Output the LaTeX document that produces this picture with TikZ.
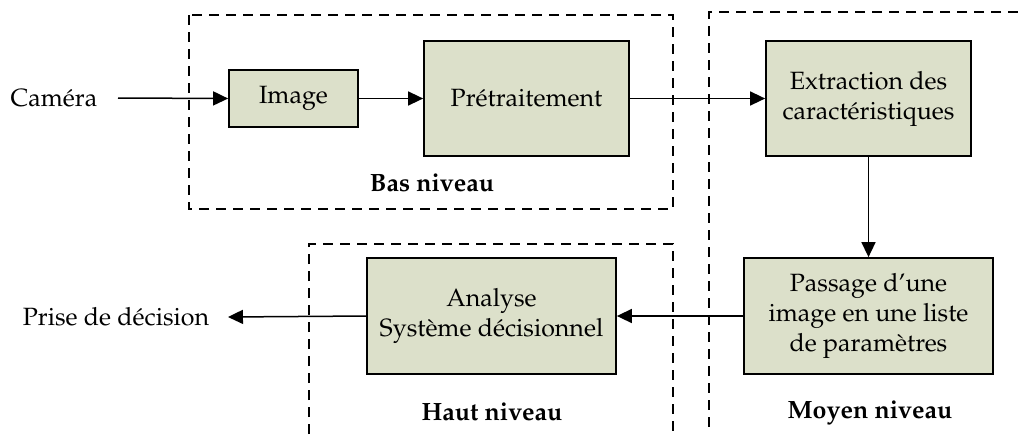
\documentclass[tikz,border=0pt]{standalone}
\usepackage[T1]{fontenc}
\usepackage{mathpazo}
\usepackage{xcolor}
\usepackage{tikz}
\usetikzlibrary{arrows.meta,positioning}
\definecolor{cBox}{RGB}{220,224,202}
\tikzset{
  stage/.style={draw=black, fill=cBox, line width=0.7pt,
                align=center, font=\normalsize, inner sep=2pt},
  level/.style={draw=black, line width=0.7pt, dash pattern=on 4pt off 2.8pt},
  lvl/.style={font=\bfseries},
  txt/.style={font=\normalsize},
  arr/.style={-{Triangle[length=6pt,width=5.6pt]}, line width=0.6pt},
}

\begin{document}
\begin{tikzpicture}[x=0.4pt, y=-0.4pt]
  \useasboundingbox (0,0) rectangle (1018,434);
  % niveaux
  \draw[level] (189,15) rectangle (673,209);
  \draw[level] (1018,12) -- (709,12) -- (709,434);
  \draw[level] (309,434) -- (309,244) -- (673,244) -- (673,434);
  \node[lvl] (bas) at (432,183) {Bas niveau};
  \node[lvl] (haut) at (492,412) {Haut niveau};
  \node[lvl] (moyen) at (870,413) {Moyen niveau};
  % blocs
  \node[txt] (cam) at (54,98) {Caméra};
  \coordinate (camr) at (118,98);
  \node[stage, minimum width=51.6pt, minimum height=22.8pt] (img) at (293.5,98.5) {Image};
  \node[stage, minimum width=82pt, minimum height=46pt] (pre) at (526.5,98.5) {Prétraitement};
  \node[stage, minimum width=82pt, minimum height=46pt] (ext) at (868.5,98.5) {Extraction des\\caractéristiques};
  \node[stage, minimum width=99.6pt, minimum height=46.4pt] (pas) at (868.5,316) {Passage d'une\\image en une liste\\de paramètres};
  \node[stage, minimum width=99.6pt, minimum height=46.4pt] (ana) at (491.5,316) {Analyse\\Système décisionnel};
  \node[txt] (dec) at (116,317) {Prise de décision};
  % liaisons
  \draw[arr] (camr) -- (img.west);
  \draw[arr] (img) -- (pre);
  \draw[arr] (pre) -- (ext);
  \draw[arr] (ext) -- (pas);
  \draw[arr] (pas) -- (ana);
  \draw[arr] (ana.west) -- ([xshift=4pt]dec.east);
\end{tikzpicture}
\end{document}
